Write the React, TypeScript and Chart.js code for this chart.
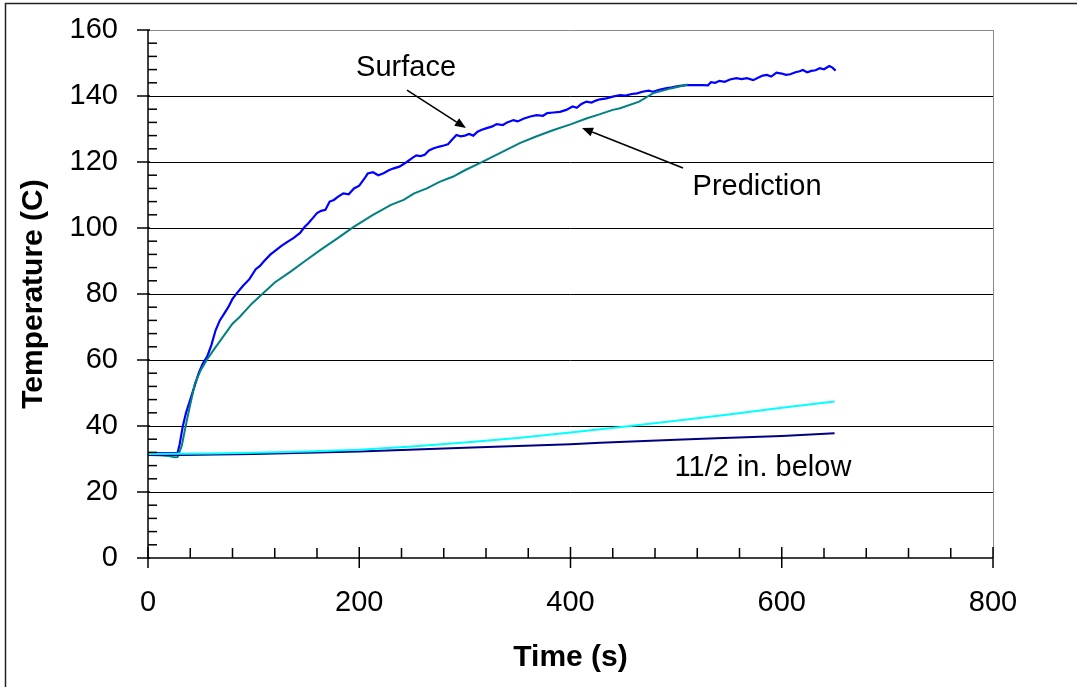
import React, { useEffect, useRef } from "react";
import { Chart, registerables } from "chart.js";

Chart.register(...registerables);

// ---- Data ----
const surfaceTime = [
  0, 10, 20, 28, 30, 33, 36, 40, 44, 48, 52, 56, 60, 64, 68, 72, 76, 80, 84, 90, 96, 102, 106, 110, 116, 120,
  126, 132, 138, 144, 148, 152, 156, 160, 164, 168, 172, 176, 180, 185, 190, 195, 200, 205, 208, 213, 218, 223,
  228, 232, 238, 245, 250, 254, 258, 262, 266, 270, 275, 280, 284, 288, 292, 296, 300, 304, 308, 312, 316, 320,
  326, 330, 336, 340, 346, 350, 356, 362, 368, 374, 378, 384, 390, 396, 402, 406, 410, 415, 420, 424, 428, 434,
  440, 447, 452, 458, 463, 468, 474, 478, 484, 490, 496, 502, 510, 518, 525, 530, 533, 537, 541, 546, 551, 557,
  562, 567, 573, 578, 582, 586, 590, 595, 600, 604, 608, 613, 617, 620, 624, 628, 632, 636, 640, 645, 648, 651,
];
const surfaceTemp = [
  31.8, 31.8, 31.8, 31.8, 34.5, 40, 44, 48, 52, 56, 59, 61, 64.5, 69, 72, 74, 76, 78.5, 80.2, 82.5, 84.5, 87.5,
  88.5, 90, 92, 93, 94.5, 95.8, 97, 98.5, 100.2, 101.5, 103, 104.5, 105.2, 105.5, 108, 108.5, 109.5, 110.5, 110.2,
  112, 112.8, 115, 116.5, 116.9, 116, 116.6, 117.5, 118, 118.6, 120, 121.2, 122, 121.8, 122.2, 123.5, 124.1,
  124.6, 125, 125.4, 126.8, 128.2, 127.8, 128, 128.5, 128, 129.2, 129.8, 130.2, 130.8, 131.5, 131.2, 132, 132.7,
  132.3, 133.2, 133.8, 134.2, 134, 134.8, 135, 135.2, 135.8, 136.8, 136.4, 137.5, 138.3, 138, 138.6, 139, 139.3,
  139.8, 140.3, 140.1, 140.6, 140.8, 141.3, 141.6, 141.3, 141.9, 142.3, 142.6, 143, 143.3, 143.3, 143.3, 143.2,
  144.2, 144, 144.6, 144.3, 145, 145.4, 145.1, 145.4, 144.8, 145.6, 146.2, 146.4, 145.9, 147.1, 146.8, 146.4,
  146.6, 147.2, 147.5, 147.9, 147.2, 147.6, 147.8, 148.4, 148.1, 149.1, 148.6, 147.7,
];

const predictionTime = [
  0, 10, 20, 25, 28, 32, 36, 40, 44.5, 50, 55.6, 62, 71, 80, 87, 98, 109, 120, 135, 150, 163, 180, 194, 213, 230,
  242, 252, 264, 276, 289, 300, 317, 335, 352, 368, 384, 400, 415, 428, 440, 447, 465, 478, 495, 511,
];
const predictionTemp = [
  31.2, 31.1, 30.9, 30.5, 30.6, 34, 40.5, 46.5, 53, 57, 60, 63, 67, 71, 73.1, 77, 80.2, 83.5, 86.8, 90.3, 93.3,
  97, 100.2, 104, 107, 108.5, 110.5, 112, 114, 115.6, 117.5, 120.1, 123, 125.7, 127.8, 129.7, 131.4, 133.2,
  134.5, 135.8, 136.3, 138.3, 140.8, 142.3, 143.5,
];

const halfInTime = [0, 30, 60, 100, 150, 200, 250, 300, 350, 400, 428, 450, 500, 550, 600, 650];
const halfInTemp = [31.5, 31.6, 31.7, 31.9, 32.3, 32.8, 33.8, 35.0, 36.4, 38.0, 39.0, 39.8, 41.6, 43.5, 45.5, 47.4];

const belowTime = [0, 30, 100, 200, 267, 300, 400, 428, 500, 538, 600, 650];
const belowTemp = [31.2, 31.2, 31.5, 32.3, 33.0, 33.4, 34.5, 34.9, 35.8, 36.3, 37.0, 37.8];

const xTickValues = [0, 200, 400, 600, 800];
const yTickValues = [0, 20, 40, 60, 80, 100, 120, 140, 160];
const xMinorStep = 40;
const yMinorStep = 4;

const xTitle = "Time (s)";
const yTitle = "Temperature (C)";

// annotation texts and positions in data units (time, temperature)
const labelTexts = ["Surface", "Prediction", "11/2 in. below"];
const labelTimes = [244.3, 576.6, 582.2];
const labelTemps = [148.5, 112.4, 27.3];
// arrows: tail (t,T) -> tip (t,T)
const arrowTailTimes = [245.2, 506.5];
const arrowTailTemps = [141.8, 118.2];
const arrowTipTimes = [301, 410.9];
const arrowTipTemps = [130.3, 130.3];

const FONT = '"Liberation Sans", Arial, sans-serif';

const zip = (xs: number[], ys: number[]) => xs.map((x, i) => ({ x, y: ys[i] }));

const decorPlugin = {
  id: "decor",
  beforeDraw(chart: any) {
    const { ctx } = chart;
    ctx.save();
    ctx.fillStyle = "#fff";
    ctx.fillRect(0, 0, chart.width, chart.height);
    ctx.strokeStyle = "#222";
    ctx.lineWidth = 1.5;
    ctx.strokeRect(5.5, 3.5, chart.width + 20, chart.height + 20);
    ctx.restore();
  },
  beforeDatasetsDraw(chart: any) {
    const { ctx, chartArea: a, scales } = chart;
    const y = scales.y;
    ctx.save();
    ctx.lineWidth = 1;
    yTickValues.forEach((v) => {
      if (v === 0) return;
      const py = Math.round(y.getPixelForValue(v)) + 0.5;
      ctx.strokeStyle = v === 160 ? "#8a8a8a" : "#000";
      ctx.beginPath();
      ctx.moveTo(a.left, py);
      ctx.lineTo(a.right, py);
      ctx.stroke();
    });
    ctx.strokeStyle = "#8a8a8a";
    ctx.beginPath();
    ctx.moveTo(Math.round(a.right) + 0.5, a.top);
    ctx.lineTo(Math.round(a.right) + 0.5, a.bottom);
    ctx.stroke();
    ctx.restore();
  },
  afterDatasetsDraw(chart: any) {
    const { ctx, chartArea: a, scales } = chart;
    const x = scales.x;
    const y = scales.y;
    ctx.save();
    ctx.strokeStyle = "#000";
    ctx.lineWidth = 1.5;
    // axes
    ctx.beginPath();
    ctx.moveTo(a.left, a.top);
    ctx.lineTo(a.left, a.bottom);
    ctx.lineTo(a.right, a.bottom);
    ctx.stroke();
    // y ticks
    for (let v = 0; v <= 160; v += yMinorStep) {
      const py = y.getPixelForValue(v);
      ctx.beginPath();
      if (v % 20 === 0) {
        ctx.moveTo(a.left - 11, py);
        ctx.lineTo(a.left + 2, py);
      } else {
        ctx.moveTo(a.left, py);
        ctx.lineTo(a.left + 9, py);
      }
      ctx.stroke();
    }
    // x ticks
    for (let v = 0; v <= 800; v += xMinorStep) {
      const px = x.getPixelForValue(v);
      ctx.beginPath();
      if (v % 200 === 0) {
        ctx.moveTo(px, a.bottom - 11);
        ctx.lineTo(px, a.bottom + 10);
      } else {
        ctx.moveTo(px, a.bottom - 10);
        ctx.lineTo(px, a.bottom);
      }
      ctx.stroke();
    }
    // annotation labels
    ctx.fillStyle = "#000";
    ctx.font = `29px ${FONT}`;
    ctx.textAlign = "center";
    ctx.textBaseline = "middle";
    labelTexts.forEach((t, i) => {
      ctx.fillText(t, x.getPixelForValue(labelTimes[i]), y.getPixelForValue(labelTemps[i]));
    });
    // arrows
    ctx.lineWidth = 1.6;
    arrowTailTimes.forEach((_, i) => {
      const x0 = x.getPixelForValue(arrowTailTimes[i]);
      const y0 = y.getPixelForValue(arrowTailTemps[i]);
      const x1 = x.getPixelForValue(arrowTipTimes[i]);
      const y1 = y.getPixelForValue(arrowTipTemps[i]);
      const ang = Math.atan2(y1 - y0, x1 - x0);
      const len = 11;
      const hw = 4.5;
      const bx = x1 - len * Math.cos(ang);
      const by = y1 - len * Math.sin(ang);
      ctx.beginPath();
      ctx.moveTo(x0, y0);
      ctx.lineTo(bx, by);
      ctx.stroke();
      ctx.beginPath();
      ctx.moveTo(x1, y1);
      ctx.lineTo(bx + hw * Math.sin(ang), by - hw * Math.cos(ang));
      ctx.lineTo(bx - hw * Math.sin(ang), by + hw * Math.cos(ang));
      ctx.closePath();
      ctx.fill();
    });
    // axis titles
    ctx.font = `bold 30px ${FONT}`;
    ctx.textBaseline = "middle";
    ctx.fillText(xTitle, (a.left + a.right) / 2, 658);
    ctx.save();
    ctx.translate(34, (a.top + a.bottom) / 2);
    ctx.rotate(-Math.PI / 2);
    ctx.fillText(yTitle, 0, 0);
    ctx.restore();
    ctx.restore();
  },
};

export default function App() {
  const ref = useRef<HTMLCanvasElement | null>(null);
  useEffect(() => {
    if (!ref.current) return;
    const lineDs = (label: string, data: any[], color: string, width: number) => ({
      label,
      data,
      borderColor: color,
      backgroundColor: color,
      borderWidth: width,
      pointRadius: 0,
      tension: 0,
      fill: false,
    });
    const chart = new Chart(ref.current, {
      type: "line",
      data: {
        datasets: [
          lineDs("1/2 in. below", zip(halfInTime, halfInTemp), "#00ffff", 2),
          lineDs("11/2 in. below", zip(belowTime, belowTemp), "#000080", 2),
          lineDs("Prediction", zip(predictionTime, predictionTemp), "#008080", 2),
          lineDs("Surface", zip(surfaceTime, surfaceTemp), "#0000ff", 2.2),
        ],
      },
      options: {
        responsive: false,
        animation: false,
        events: [],
        layout: { padding: { top: 30, right: 84, bottom: 0, left: 0 } },
        plugins: { legend: { display: false }, tooltip: { enabled: false }, title: { display: false } },
        scales: {
          x: {
            type: "linear",
            min: 0,
            max: 800,
            afterFit: (s: any) => {
              s.height = 129;
              s.paddingLeft = 0;
              s.paddingRight = 0;
            },
            grid: { display: false, drawTicks: false },
            border: { display: false },
            ticks: {
              stepSize: 200,
              padding: 28,
              color: "#000",
              font: { family: FONT, size: 29 },
              maxRotation: 0,
            },
          },
          y: {
            type: "linear",
            min: 0,
            max: 160,
            afterFit: (s: any) => {
              s.width = 148;
              s.paddingTop = 0;
              s.paddingBottom = 0;
            },
            grid: { display: false, drawTicks: false },
            border: { display: false },
            ticks: {
              stepSize: 20,
              padding: 30,
              color: "#000",
              font: { family: FONT, size: 29 },
            },
          },
        },
      },
      plugins: [decorPlugin],
    });
    return () => chart.destroy();
  }, []);
  return (
    <div style={{ position: "absolute", left: 0, top: 0, width: 1077, height: 687, background: "#fff" }}>
      <canvas ref={ref} width={1077} height={687} style={{ display: "block" }} />
    </div>
  );
}
